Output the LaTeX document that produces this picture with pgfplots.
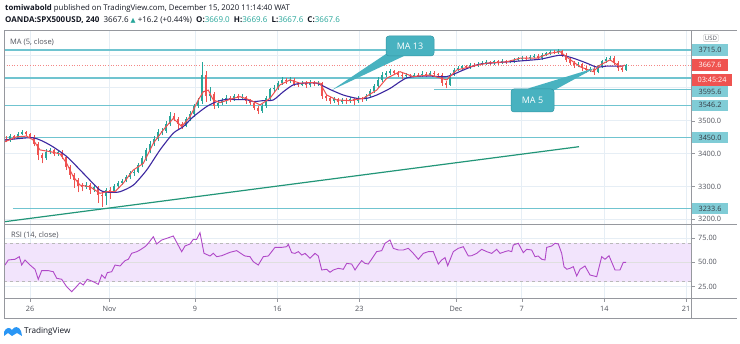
\documentclass[border=0pt]{standalone}
\usepackage{fontspec}
\setmainfont{Open Sans}
\newfontfamily\dejavu{DejaVu Sans}
\usepackage{pgfplots}
\usepackage{pgfplotstable}
\pgfplotsset{compat=1.18}
\definecolor{upc}{RGB}{38,166,154}
\definecolor{dnc}{RGB}{239,83,80}
\definecolor{lvl}{RGB}{112,196,208}
\definecolor{lvlbox}{RGB}{128,204,214}
\definecolor{trend}{RGB}{34,150,120}
\definecolor{ma13}{RGB}{60,40,160}
\definecolor{ma5}{RGB}{240,80,80}
\definecolor{rsic}{RGB}{176,72,200}
\definecolor{rsiband}{RGB}{242,228,252}
\definecolor{gridc}{RGB}{230,238,245}
\definecolor{framec}{RGB}{150,152,158}
\definecolor{txt}{RGB}{80,83,92}
\definecolor{hdr}{RGB}{19,23,34}
\definecolor{callout}{RGB}{72,178,192}
\definecolor{callb}{RGB}{50,150,165}
\definecolor{tvblue}{RGB}{41,150,245}

\pgfplotstableread{
x o h l c
6 3445 3452 3434 3440
10 3440 3458 3436 3452
14 3452 3456 3443 3448
18 3448 3466 3445 3460
22 3460 3471 3456 3465
26 3465 3469 3452 3458
30 3458 3462 3444 3450
34 3450 3455 3422 3430
38 3430 3434 3380 3395
42 3395 3402 3370 3385
46 3385 3414 3381 3405
50 3405 3418 3398 3410
54 3410 3414 3392 3400
58 3400 3412 3394 3406
62 3406 3410 3382 3390
66 3390 3394 3350 3360
70 3360 3366 3322 3335
74 3335 3342 3296 3320
78 3320 3326 3282 3300
82 3300 3310 3285 3298
86 3298 3314 3292 3305
90 3305 3309 3278 3290
94 3290 3305 3284 3298
98 3298 3302 3250 3275
102 3275 3285 3238 3270
106 3270 3296 3245 3290
110 3290 3298 3262 3285
114 3285 3306 3280 3300
118 3300 3316 3294 3310
122 3310 3324 3304 3318
126 3318 3336 3312 3330
130 3330 3348 3322 3340
134 3340 3352 3332 3345
138 3345 3372 3340 3365
142 3365 3392 3358 3385
146 3385 3418 3378 3410
150 3410 3438 3402 3430
154 3430 3452 3424 3445
158 3445 3474 3438 3465
162 3465 3478 3455 3470
166 3470 3498 3462 3490
170 3490 3526 3484 3515
174 3515 3522 3498 3505
178 3505 3510 3472 3490
182 3490 3496 3474 3485
186 3485 3512 3480 3505
190 3505 3528 3498 3520
194 3520 3552 3512 3545
198 3545 3568 3538 3560
202 3560 3677 3552 3640
206 3640 3652 3558 3575
210 3575 3602 3560 3580
214 3580 3586 3535 3545
218 3545 3562 3538 3555
222 3555 3568 3548 3560
226 3560 3578 3552 3570
230 3570 3576 3556 3565
234 3565 3582 3560 3575
238 3575 3580 3562 3570
242 3570 3580 3564 3572
246 3572 3576 3552 3560
250 3560 3566 3548 3555
254 3555 3560 3532 3540
258 3540 3546 3520 3530
262 3530 3552 3524 3545
266 3545 3576 3540 3570
270 3570 3600 3564 3595
274 3595 3608 3588 3600
278 3600 3622 3594 3615
282 3615 3632 3610 3625
286 3625 3630 3612 3620
290 3620 3632 3614 3625
294 3625 3630 3606 3612
298 3612 3618 3602 3610
302 3610 3622 3604 3615
306 3615 3620 3600 3608
310 3608 3624 3602 3618
314 3618 3622 3604 3612
318 3612 3620 3606 3615
322 3615 3618 3566 3575
326 3575 3580 3560 3568
330 3568 3572 3550 3560
334 3560 3572 3554 3565
338 3565 3570 3548 3558
342 3558 3568 3552 3562
346 3562 3568 3550 3560
350 3560 3572 3554 3565
354 3565 3570 3548 3560
358 3560 3574 3554 3568
362 3568 3572 3558 3565
366 3565 3582 3560 3575
370 3575 3596 3570 3590
374 3590 3612 3584 3605
378 3605 3632 3600 3625
382 3625 3648 3618 3640
386 3640 3652 3634 3645
390 3645 3658 3640 3650
394 3650 3655 3638 3645
398 3645 3650 3632 3640
402 3640 3646 3628 3635
406 3635 3644 3630 3638
410 3638 3642 3630 3636
414 3636 3646 3632 3640
418 3640 3645 3632 3638
422 3638 3650 3634 3643
426 3643 3648 3634 3640
430 3640 3650 3636 3645
434 3645 3650 3636 3642
438 3642 3646 3632 3640
442 3640 3644 3606 3615
446 3615 3620 3598 3610
450 3610 3646 3606 3640
454 3640 3660 3636 3655
458 3655 3666 3650 3660
462 3660 3670 3655 3665
466 3665 3669 3656 3662
470 3662 3676 3658 3670
474 3670 3674 3662 3668
478 3668 3678 3664 3672
482 3672 3680 3668 3675
486 3675 3684 3670 3678
490 3678 3682 3668 3674
494 3674 3686 3670 3680
498 3680 3684 3670 3676
502 3676 3688 3672 3682
506 3682 3686 3672 3678
510 3678 3686 3674 3680
514 3680 3690 3676 3685
518 3685 3694 3680 3688
522 3688 3698 3684 3692
526 3692 3696 3684 3690
530 3690 3700 3686 3695
534 3695 3704 3690 3698
538 3698 3702 3684 3690
542 3690 3706 3686 3700
546 3700 3710 3696 3705
550 3705 3716 3700 3710
554 3710 3714 3702 3708
558 3708 3718 3704 3712
562 3712 3716 3694 3700
566 3700 3705 3678 3685
570 3685 3690 3668 3675
574 3675 3680 3660 3668
578 3668 3678 3662 3672
582 3672 3676 3652 3660
586 3660 3665 3645 3655
590 3655 3664 3648 3658
594 3658 3662 3640 3648
598 3648 3670 3644 3665
602 3665 3686 3660 3680
606 3680 3694 3676 3688
610 3688 3698 3682 3692
614 3692 3696 3670 3675
618 3675 3680 3652 3660
622 3660 3664 3648 3655
626 3655 3672 3652 3668
}\candles

\begin{document}
\begin{tikzpicture}[x=1pt,y=1pt]
\useasboundingbox (0,0) rectangle (740,344);
\fill[white] (0,0) rectangle (740,344);

% ---------------- main price pane ----------------
\begin{axis}[
  at={(4pt,120pt)}, anchor=south west, scale only axis,
  width=687.7pt, height=194pt,
  xmin=4, xmax=691.7, ymin=3185.8, ymax=3775.8,
  axis line style={draw=framec, line width=0.8pt},
  xtick={30,109.3,195,277.3,359.3,456,521.7,604.3,686},
  xticklabels={},
  major x tick style={draw=none},
  ytick={3200,3300,3400,3500,3600,3700},
  yticklabels={3200.0,3300.0,3400.0,3500.0,{},{}},
  ytick pos=right, yticklabel pos=right,
  ytick align=outside, major tick length=3pt,
  major y tick style={draw=framec},
  yticklabel style={font=\fontsize{7.3}{8}\selectfont, text=txt},
  xmajorgrids, ymajorgrids, grid style={gridc, line width=0.6pt},
  clip=true,
]
% horizontal levels
\addplot[lvl, line width=1.2pt] coordinates {(4,3715) (691.7,3715)};
\addplot[lvl, line width=1.2pt] coordinates {(4,3630) (691.7,3630)};
\addplot[lvl, line width=1.2pt] coordinates {(434,3595.6) (691.7,3595.6)};
\addplot[lvl, line width=1.2pt] coordinates {(4,3546.2) (691.7,3546.2)};
\addplot[lvl, line width=1.2pt] coordinates {(4,3450) (691.7,3450)};
\addplot[lvl, line width=1.2pt] coordinates {(13,3233.6) (691.7,3233.6)};
% current price dotted
\addplot[dnc!70, line width=0.6pt, dotted] coordinates {(4,3667.6) (691.7,3667.6)};
% trend line
\addplot[trend, line width=1.2pt] coordinates {(4.7,3192.8) (579,3420.9)};
% candles: wicks
\addplot[upc, line width=0.55pt, no markers, quiver={u=0, v=\thisrow{h}-\thisrow{l}},
  restrict expr to domain={\thisrow{c}-\thisrow{o}}{0:10000}] table[x=x, y=l] {\candles};
\addplot[dnc, line width=0.55pt, no markers, quiver={u=0, v=\thisrow{h}-\thisrow{l}},
  restrict expr to domain={\thisrow{o}-\thisrow{c}}{0.001:10000}] table[x=x, y=l] {\candles};
% candles: bodies
\addplot[upc, line width=2.3pt, no markers, quiver={u=0, v=abs(\thisrow{c}-\thisrow{o})},
  restrict expr to domain={\thisrow{c}-\thisrow{o}}{0:10000}] table[x=x, y expr={min(\thisrow{o},\thisrow{c})}] {\candles};
\addplot[dnc, line width=2.3pt, no markers, quiver={u=0, v=abs(\thisrow{c}-\thisrow{o})},
  restrict expr to domain={\thisrow{o}-\thisrow{c}}{0.001:10000}] table[x=x, y expr={min(\thisrow{o},\thisrow{c})}] {\candles};
% MA 13
\addplot[ma13, line width=1.1pt, smooth, tension=0.4, no markers] coordinates {
(5,3441) (33,3448) (50,3426) (66.7,3391) (83.3,3340) (100,3289) (110,3282) (120,3284)
(133.3,3304) (146.7,3350) (160,3411) (173.3,3462) (183.3,3482) (193.3,3512) (206.7,3543)
(216.7,3558) (226.7,3565) (236.7,3564) (246.7,3564) (253.3,3558) (263.3,3561) (273.3,3563)
(283.3,3588) (293.3,3609) (303.3,3614) (316.7,3614) (330,3595) (343.3,3578) (356.7,3568)
(366.7,3568) (376.7,3578) (390,3598) (406.7,3630) (426,3636) (446.7,3634) (463.3,3654)
(480,3672) (513.3,3680) (540,3687) (560,3699) (573.3,3690) (586.7,3675) (596.7,3663)
(606.7,3666) (616.7,3666) (623.3,3666)};
% MA 5
\addplot[ma5, line width=1.0pt, no markers] coordinates {
(5,3436) (16.7,3451) (26.7,3453) (33.3,3441) (40,3411) (50,3406) (60,3399) (66.7,3370)
(73.3,3330) (80,3304) (90,3299) (100,3279) (106.7,3284) (115,3284) (123.3,3310) (133.3,3350)
(143.3,3370) (153.3,3431) (163.3,3472) (173.3,3507) (181.7,3482) (190,3512) (198.3,3563)
(203.3,3588) (208.3,3593) (213.3,3563) (220,3555) (233.3,3568) (240,3573) (250,3563)
(260,3548) (270,3568) (280,3609) (290,3624) (300,3614) (310,3616) (320,3614) (326.7,3578)
(336.7,3563) (350,3561) (363.3,3568) (376.7,3593) (386.7,3629) (396.7,3644) (400,3649)
(413.3,3634) (430,3639) (446.7,3624) (456.7,3654) (470,3664) (486.7,3675) (506.7,3679)
(520,3690) (536.7,3690) (550,3705) (560,3710) (568.3,3690) (580,3664) (593.3,3649)
(600,3669) (610,3685) (620,3664) (625,3669)};
\end{axis}

% ---------------- RSI pane ----------------
\begin{axis}[
  at={(4pt,45.3pt)}, anchor=south west, scale only axis,
  width=687.7pt, height=74.7pt,
  xmin=4, xmax=691.7, ymin=12.47, ymax=89.5,
  axis line style={draw=framec, line width=0.8pt},
  xtick={30,109.3,195,277.3,359.3,456,521.7,604.3,686},
  xticklabels={26,Nov,9,16,23,Dec,7,14,21},
  xtick pos=bottom, xtick align=outside,
  xticklabel style={font=\fontsize{7.3}{8}\selectfont, text=txt, yshift=-1pt},
  ytick={25,50,75},
  yticklabels={25.00,50.00,75.00},
  ytick pos=right, yticklabel pos=right,
  ytick align=outside, major tick length=3pt,
  tick style={draw=framec},
  yticklabel style={font=\fontsize{7.3}{8}\selectfont, text=txt},
  xmajorgrids, ymajorgrids, grid style={gridc, line width=0.6pt},
  clip=true,
]
\addplot[fill=rsiband, draw=none] coordinates {(4,30) (691.7,30) (691.7,70) (4,70)} -- cycle;
\addplot[gray!55, line width=0.6pt, dashed] coordinates {(4,70) (691.7,70)};
\addplot[gray!55, line width=0.6pt, dashed] coordinates {(4,30) (691.7,30)};
\addplot[gray!25, line width=0.6pt] coordinates {(4,50) (691.7,50)};
\addplot[rsic, line width=0.9pt, no markers] coordinates {
(5,47.2) (8.3,52.4) (15,53.1) (19.3,55.8) (21.7,47.2) (25,52.4) (30,47.2) (35,42.8)
(38.3,32.5) (41.7,41.4) (48.3,41.4) (53.3,40.3) (56.7,33.5) (61.7,32.5) (66.7,24.8)
(71.7,19.7) (75,23.2) (80,29) (83.3,26.6) (87.3,32.5) (93.3,30) (98.3,27.3) (101.7,36.9)
(105,33.5) (107.3,39.3) (111.7,40.3) (115,47.2) (120,46.2) (125,51.7) (128.3,53.1)
(131.7,59.3) (136.7,60.9) (140,62.7) (145,66.1) (148.3,69.6) (153.3,76.4) (156.7,68.9)
(161.7,73) (166.7,74.7) (173.3,77.1) (181.7,60.9) (185,66.8) (190,68.9) (193.3,73.7)
(196.7,73.7) (200,80.5) (204,59.3) (210,56.5) (213.3,59.3) (216.7,55.8) (221.7,56.8)
(230,60.3) (236.7,62) (243.3,57.5)
(245,56.5) (250,55.8) (253.3,50.6) (258.3,47.2) (263.3,55.8) (268.3,56.5) (275,65.4)
(281.7,65.4) (286.7,66.1) (288.3,68.5) (291.7,59.9) (295,59.2) (298.3,61) (301.7,57.5)
(305,59.2) (310,54.1) (315,59.2) (318.3,56.5) (321.7,42.1) (326.7,42.8) (330,39.7)
(333.3,42.1) (338.3,43.8) (343.3,42.8) (346.7,48.9) (351.7,48.2) (355,42.1) (358.3,47.2)
(361.7,51.7) (365,48.9) (368.3,48.2) (373.3,55.8) (376.7,61) (381.7,62) (385,69.6)
(390,73) (393.3,64.4) (398.3,62.7) (403.3,62.7) (408.3,64.4) (413.3,59.2) (418.3,53.1)
(423.3,59.2) (428.3,61) (433.3,61) (438.3,48.2) (441.7,52.4) (445,54.8) (447.7,46.5)
(453.3,61) (458.3,64.4) (463.3,66.1) (468.3,56.5) (471.7,56.8) (476.7,59.2) (481.7,63.4)
(486.7,61) (491.7,59.2) (496.7,63.4) (500,59.2) (505,61) (508.3,62) (511.7,61)
(513.3,67.8) (518.3,69.6) (523.3,59.9) (526.7,63.4) (531.7,62.7) (535,55.8) (538.3,56.5)
(541.7,53.1) (545,52.4) (546.7,65.4) (551.7,66.8) (555,69.6) (558.3,68.9) (561.7,59.2)
(564,45.5) (566.7,42.8) (570,43.8) (573.3,45.5) (576.7,35.9) (580,42.8) (585,46.2)
(590,36.9) (596.7,35.2) (601.7,55.8) (605,53.1) (609,56.8) (615,42.1) (620,42.1)
(623.3,50) (626,50)};
\end{axis}

% ---------------- frame ----------------
\draw[framec, line width=0.8pt] (4,314) -- (737,314);
\draw[framec, line width=0.8pt] (4,25.7) -- (737,25.7);
\draw[framec, line width=0.8pt] (4,25.7) -- (4,314);
\draw[framec, line width=0.8pt] (691.7,25.7) -- (691.7,314);
\draw[framec, line width=0.8pt] (691.7,45.3) -- (737,45.3);
\draw[framec, line width=0.8pt] (691.7,120) -- (737,120);

% ---------------- header ----------------
\node[anchor=base west, inner sep=0pt, font=\fontsize{7.8}{10}\selectfont, text=hdr] at (5,333)
  {\textbf{tomiwabold} published on TradingView.com, December 15, 2020 11:14:40 WAT};
\node[anchor=base west, inner sep=0pt, font=\fontsize{8}{10}\selectfont, text=hdr] at (5,321)
  {\textbf{OANDA:SPX500USD, 240}\ \ 3667.6 {\color{upc}\dejavu\fontsize{6.5}{7}\selectfont ▲} +16.2 (+0.44\%)\ \ \textbf{O:}{\color{upc}3669.0}\ \ \textbf{H:}{\color{upc}3669.6}\ \ \textbf{L:}{\color{upc}3667.6}\ \ \textbf{C:}{\color{upc}3667.6}};

% pane titles
\node[anchor=west, inner sep=0pt, font=\fontsize{7.5}{9}\selectfont, text=txt] at (10,301.3) {MA (5, close)};
\node[anchor=west, inner sep=0pt, font=\fontsize{7.5}{9}\selectfont, text=txt] at (11,108.3) {RSI (14, close)};

% ---------------- price scale labels ----------------
\tikzset{pl/.style={anchor=west, inner sep=0pt, minimum height=11.5pt, minimum width=36.3pt, font=\fontsize{7.3}{8}\selectfont}}
\node[pl, fill=lvlbox, text=hdr!85] at (691.7,294) {3715.0};
\node[pl, fill=dnc, text=white] at (691.7,279) {3667.6};
\node[pl, fill=dnc, text=white, minimum width=40.3pt] at (691.7,264) {03:45:24};
\node[pl, fill=lvlbox, text=hdr!85] at (691.7,252.3) {3595.6};
\node[pl, fill=lvlbox, text=hdr!85] at (691.7,238.7) {3546.2};
\node[pl, fill=lvlbox, text=hdr!85] at (691.7,206.5) {3450.0};
\node[pl, fill=lvlbox, text=hdr!85] at (691.7,135.5) {3233.6};
\node[draw=gray!50, fill=white, rounded corners=2pt, inner sep=1.5pt, font=\fontsize{6}{7}\selectfont, text=txt] at (711,306) {USD};

% ---------------- callouts ----------------
\fill[callout] (389,292) -- (405,288.5) -- (332,254) -- cycle;
\node[fill=callout, draw=callb, line width=0.5pt, rounded corners=3pt, minimum width=48pt, minimum height=20pt, inner sep=0pt, text=white, font=\fontsize{9}{10}\selectfont] at (410,298) {MA 13};
\fill[callout] (528,255.5) -- (551,252) -- (595,276) -- cycle;
\node[fill=callout, draw=callb, line width=0.5pt, rounded corners=3pt, minimum width=43pt, minimum height=23pt, inner sep=0pt, text=white, font=\fontsize{9}{10}\selectfont] at (532.5,243.5) {MA 5};

% ---------------- TradingView logo ----------------
\fill[tvblue] (4,8) -- (4,12) .. controls (6,17) and (10,17) .. (12,14) .. controls (14,18) and (19,18) .. (21,13) -- (22,8) -- (17,11) -- (12,8) -- (8,11) -- cycle;
\node[anchor=west, inner sep=0pt, font=\fontsize{8.2}{9}\selectfont, text=hdr] at (24,13) {TradingView};
\end{tikzpicture}
\end{document}
